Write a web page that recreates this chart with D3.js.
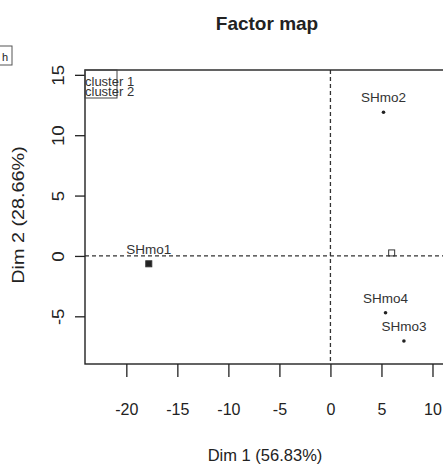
<!DOCTYPE html>
<html>
<head>
<meta charset="utf-8">
<script src="https://cdn.jsdelivr.net/npm/d3@7"></script>
<style>
  body { margin: 0; background: #fff; }
  text { font-family: "Liberation Sans", Arial, sans-serif; fill: #222; }
</style>
</head>
<body>
<div id="chart"></div>
<script>
// individuals on the factor map
var names = ["SHmo1", "SHmo2", "SHmo4", "SHmo3"];
var dim1 = [-17.8, 5.2, 5.4, 7.2];
var dim2 = [-0.65, 11.9, -4.7, -7.05];

// cluster centres
var clusterNames = ["cluster 1", "cluster 2"];
var centreX = [-17.8, 6.0];
var centreY = [-0.65, 0.25];

var xTicks = [-20, -15, -10, -5, 0, 5, 10];
var yTicks = [-5, 0, 5, 10, 15];

var width = 443, height = 466;
var pLeft = 85, pRight = 458, pTop = 70, pBottom = 364;

var svg = d3.select('#chart')
  .append('svg')
  .attr('width', width)
  .attr('height', height);

var x = d3.scaleLinear().domain([-24.05, 12.5]).range([pLeft, pRight]);
var y = d3.scaleLinear().domain([-8.95, 15.4]).range([pBottom, pTop]);

var fmt = function(d) { return String(d); };   // plain hyphen minus like R

// title
svg.append('text')
  .attr('x', 267).attr('y', 30)
  .attr('text-anchor', 'middle')
  .style('font-size', '19px')
  .style('font-weight', 'bold')
  .text('Factor map');

// cropped button at top left
svg.append('rect')
  .attr('x', -3).attr('y', 46).attr('width', 15).attr('height', 19)
  .attr('fill', 'none').attr('stroke', '#555').attr('stroke-width', 1);
svg.append('text')
  .attr('x', 2).attr('y', 61)
  .style('font-size', '11px')
  .text('h');

// dashed reference lines
svg.append('line')
  .attr('x1', x(0)).attr('x2', x(0))
  .attr('y1', pTop).attr('y2', pBottom)
  .attr('stroke', '#333').attr('stroke-width', 1.3)
  .attr('stroke-dasharray', '4,3');
svg.append('line')
  .attr('x1', pLeft).attr('x2', pRight)
  .attr('y1', y(0)).attr('y2', y(0))
  .attr('stroke', '#333').attr('stroke-width', 1.3)
  .attr('stroke-dasharray', '4,3');

// plot box
svg.append('rect')
  .attr('x', pLeft).attr('y', pTop)
  .attr('width', pRight - pLeft).attr('height', pBottom - pTop)
  .attr('fill', 'none').attr('stroke', '#222').attr('stroke-width', 1.4);

// x axis
var xAxis = svg.append('g')
  .attr('transform', 'translate(0,' + pBottom + ')')
  .call(d3.axisBottom(x).tickValues(xTicks).tickSize(13).tickPadding(25).tickFormat(fmt));
xAxis.select('.domain').remove();
xAxis.selectAll('line').attr('stroke', '#222').attr('stroke-width', 1.3);
xAxis.selectAll('text')
  .attr('y', 51).attr('dy', null)
  .style('font-size', '16px')
  .style('fill', '#222');

// y axis with rotated labels
var yAxis = svg.append('g')
  .attr('transform', 'translate(' + pLeft + ',0)')
  .call(d3.axisLeft(y).tickValues(yTicks).tickSize(10).tickFormat(fmt));
yAxis.select('.domain').remove();
yAxis.selectAll('line').attr('stroke', '#222').attr('stroke-width', 1.3);
yAxis.selectAll('text')
  .attr('x', null).attr('dy', null)
  .attr('text-anchor', 'middle')
  .attr('transform', 'translate(-21,0) rotate(-90) scale(1.17,1)')
  .style('font-size', '16px')
  .style('fill', '#222');

// axis titles
svg.append('text')
  .attr('x', 265).attr('y', 461)
  .attr('text-anchor', 'middle')
  .style('font-size', '16.5px')
  .text('Dim 1 (56.83%)');
svg.append('text')
  .attr('transform', 'translate(24,215) rotate(-90) scale(1.2,1)')
  .attr('text-anchor', 'middle')
  .style('font-size', '16.5px')
  .text('Dim 2 (28.66%)');

var plot = svg.append('g');

// individual points
plot.selectAll('.ind')
  .data(names)
  .enter()
  .append('circle')
  .attr('class', 'ind')
  .attr('cx', function(d, i) { return x(dim1[i]); })
  .attr('cy', function(d, i) { return y(dim2[i]); })
  .attr('r', 1.8)
  .attr('fill', '#222');

plot.selectAll('.lab')
  .data(names)
  .enter()
  .append('text')
  .attr('class', 'lab')
  .attr('x', function(d, i) { return x(dim1[i]); })
  .attr('y', function(d, i) { return y(dim2[i]) - 10; })
  .attr('text-anchor', 'middle')
  .style('font-size', '13.5px')
  .style('fill', '#333')
  .text(function(d) { return d; });

// cluster centres as squares
plot.selectAll('.centre')
  .data(clusterNames)
  .enter()
  .append('rect')
  .attr('class', 'centre')
  .attr('x', function(d, i) { return x(centreX[i]) - 3; })
  .attr('y', function(d, i) { return y(centreY[i]) - 3; })
  .attr('width', 6).attr('height', 6)
  .attr('fill', function(d, i) { return i === 0 ? '#222' : 'none'; })
  .attr('stroke', '#333').attr('stroke-width', 1);

// legend (text spills past its box, as in the original)
svg.append('rect')
  .attr('x', pLeft).attr('y', pTop)
  .attr('width', 32).attr('height', 28)
  .attr('fill', 'none').attr('stroke', '#444').attr('stroke-width', 1);
svg.selectAll('.legend')
  .data(clusterNames)
  .enter()
  .append('text')
  .attr('class', 'legend')
  .attr('x', pLeft)
  .attr('y', function(d, i) { return 86 + i * 10; })
  .style('font-size', '13px')
  .style('fill', '#333')
  .text(function(d) { return d; });
</script>
</body>
</html>
